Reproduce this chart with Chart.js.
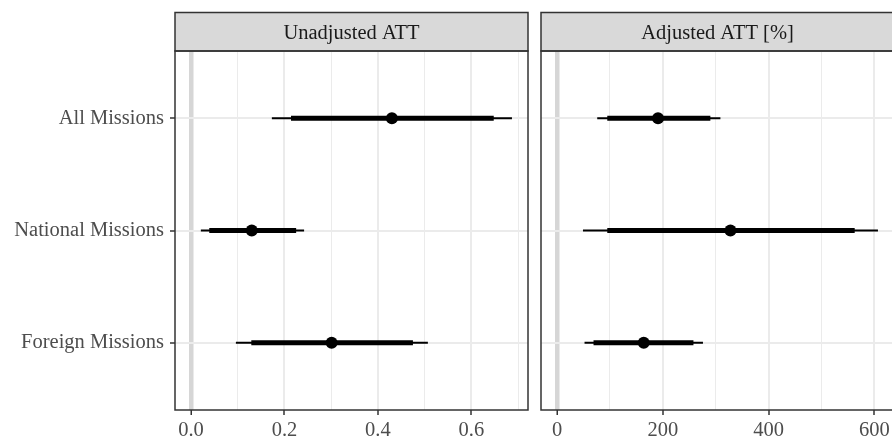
<!DOCTYPE html>
<html lang="en">
<head>
<meta charset="UTF-8">
<title>ATT by mission type</title>
<script src="https://cdn.jsdelivr.net/npm/chart.js"></script>
<style>
  html, body { margin: 0; padding: 0; background: #fff; overflow: hidden; width: 892px; height: 440px; }
  canvas { position: absolute; top: 0; }
  #unadjChart { left: 0; }
  #adjChart { left: 535px; }
</style>
</head>
<body>
<canvas id="unadjChart" width="530" height="440"></canvas>
<canvas id="adjChart" width="359" height="440"></canvas>
<script>
const categories = ['All Missions', 'National Missions', 'Foreign Missions'];

// Unadjusted ATT: estimate, inner (thick) and outer (thin) intervals
const unadjEst  = [0.430, 0.130, 0.301];
const unadjLo90 = [0.214, 0.039, 0.129];
const unadjHi90 = [0.648, 0.225, 0.475];
const unadjLo95 = [0.173, 0.021, 0.096];
const unadjHi95 = [0.687, 0.242, 0.507];

// Adjusted ATT [%]
const adjEst  = [191, 328, 164];
const adjLo90 = [95, 95, 69];
const adjHi90 = [290, 563, 258];
const adjLo95 = [76, 49, 52];
const adjHi95 = [309, 607, 276];

// x tick values
const unadjMajor = [0, 0.2, 0.4, 0.6];
const unadjMinor = [0.1, 0.3, 0.5, 0.7];
const adjMajor = [0, 200, 400, 600];
const adjMinor = [100, 300, 500];

const FONT = { family: "'Liberation Serif', 'DejaVu Serif', serif", size: 20.5 };
const rows = categories.map((c, i) => i + 1);

// strip header + panel border, drawn over everything like ggplot's theme_bw
const panelFrame = {
  id: 'panelFrame',
  afterDraw(chart, args, opts) {
    const { ctx, chartArea: a } = chart;
    const stripTop = 12.5;
    ctx.save();
    ctx.fillStyle = '#D9D9D9';
    ctx.fillRect(a.left, stripTop, a.right - a.left, a.top - stripTop);
    ctx.strokeStyle = '#333333';
    ctx.lineWidth = 1.5;
    ctx.strokeRect(a.left, stripTop, a.right - a.left, a.top - stripTop);
    ctx.strokeRect(a.left, a.top, a.right - a.left, a.bottom - a.top);
    ctx.fillStyle = '#1A1A1A';
    ctx.font = FONT.size + 'px ' + FONT.family;
    ctx.textAlign = 'center';
    ctx.textBaseline = 'alphabetic';
    ctx.fillText(opts.title, (a.left + a.right) / 2, 39);
    ctx.restore();
  }
};

function makePanel(id, cfg) {
  const allTicks = cfg.major.concat(cfg.minor).sort((a, b) => a - b);
  const maxVal = Math.max(...cfg.hi95);
  const isMajor = v => cfg.major.includes(v);
  const tickVal = c => (c && c.tick) ? c.tick.value : null;

  return new Chart(document.getElementById(id), {
    type: 'bar',
    data: {
      datasets: [
        {
          type: 'scatter',
          data: rows.map((r, i) => ({ x: cfg.est[i], y: r })),
          backgroundColor: '#000',
          borderWidth: 0,
          pointRadius: 6,
          pointHoverRadius: 6
        },
        {
          grouped: false,
          data: rows.map((r, i) => ({ x: [cfg.lo90[i], cfg.hi90[i]], y: r })),
          backgroundColor: '#000',
          borderWidth: 0,
          maxBarThickness: 5
        },
        {
          grouped: false,
          data: rows.map((r, i) => ({ x: [cfg.lo95[i], cfg.hi95[i]], y: r })),
          backgroundColor: '#000',
          borderWidth: 0,
          maxBarThickness: 2
        }
      ]
    },
    options: {
      indexAxis: 'y',
      responsive: false,
      devicePixelRatio: 1,
      animation: false,
      layout: { padding: cfg.padding, autoPadding: false },
      plugins: {
        legend: { display: false },
        tooltip: { enabled: false },
        panelFrame: { title: cfg.title }
      },
      scales: {
        x: {
          type: 'linear',
          position: 'bottom',
          offset: false,
          min: -0.05 * maxVal,
          max: 1.05 * maxVal,
          afterBuildTicks: s => { s.ticks = allTicks.map(v => ({ value: v })); },
          afterFit: s => { s.height = 30; },
          border: { display: false },
          grid: {
            offset: false,
            color: c => tickVal(c) === 0 ? '#D6D6D6' : '#EBEBEB',
            lineWidth: c => tickVal(c) === 0 ? 4.5 : (isMajor(tickVal(c)) ? 2 : 1),
            tickColor: c => isMajor(tickVal(c)) ? '#333333' : 'rgba(0,0,0,0)',
            tickWidth: 1.5,
            tickLength: 5
          },
          ticks: {
            autoSkip: false,
            maxRotation: 0,
            minRotation: 0,
            padding: 3,
            color: '#4D4D4D',
            font: FONT,
            callback: v => isMajor(v) ? v.toFixed(cfg.decimals) : ''
          }
        },
        y: {
          type: 'linear',
          position: 'left',
          offset: false,
          reverse: true,
          min: 0.4,
          max: 3.6,
          afterBuildTicks: s => { s.ticks = rows.map(v => ({ value: v })); },
          afterFit: s => { s.width = cfg.yWidth; },
          border: { display: false },
          grid: {
            offset: false,
            color: '#EBEBEB',
            lineWidth: 2,
            drawTicks: cfg.showY,
            tickColor: '#333333',
            tickWidth: 1.5,
            tickLength: 5
          },
          ticks: {
            display: cfg.showY,
            padding: 6,
            color: '#4D4D4D',
            font: FONT,
            callback: v => categories[v - 1]
          }
        }
      }
    },
    plugins: [panelFrame]
  });
}

makePanel('unadjChart', {
  title: 'Unadjusted ATT',
  est: unadjEst, lo90: unadjLo90, hi90: unadjHi90, lo95: unadjLo95, hi95: unadjHi95,
  major: unadjMajor, minor: unadjMinor, decimals: 1,
  showY: true, yWidth: 175,
  padding: { top: 51, right: 2, bottom: 0, left: 0 }
});

makePanel('adjChart', {
  title: 'Adjusted ATT [%]',
  est: adjEst, lo90: adjLo90, hi90: adjHi90, lo95: adjLo95, hi95: adjHi95,
  major: adjMajor, minor: adjMinor, decimals: 0,
  showY: false, yWidth: 0,
  padding: { top: 51, right: 0, bottom: 0, left: 6 }
});
</script>
</body>
</html>
